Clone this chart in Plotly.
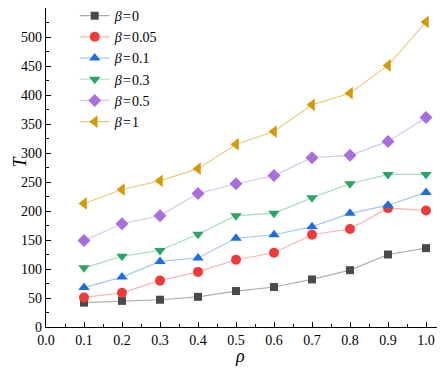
import plotly.graph_objects as go

rho = [0.1, 0.2, 0.3, 0.4, 0.5, 0.6, 0.7, 0.8, 0.9, 1.0]
beta_labels = ["0", "0.05", "0.1", "0.3", "0.5", "1"]
T_b0 = [42, 45, 47, 52, 62, 69, 82, 98, 125, 136]
T_b005 = [51, 59, 80, 95, 116, 128, 159, 169, 205, 201]
T_b01 = [68, 86, 113, 119, 153, 159, 173, 196, 210, 232]
T_b03 = [102, 122, 132, 160, 192, 196, 223, 247, 263, 263]
T_b05 = [149, 178, 192, 230, 247, 261, 292, 296, 320, 361]
T_b1 = [213, 237, 252, 273, 315, 337, 383, 403, 451, 526]
x_ticks = [0, 0.1, 0.2, 0.3, 0.4, 0.5, 0.6, 0.7, 0.8, 0.9, 1.0]
x_ticklabels = ["0.0", "0.1", "0.2", "0.3", "0.4", "0.5", "0.6", "0.7", "0.8", "0.9", "1.0"]

series = [T_b0, T_b005, T_b01, T_b03, T_b05, T_b1]
marker_colors = ["#4a4a4a", "#f03a3a", "#1f6ee0", "#2aa564", "#a86fdc", "#d39a06"]
line_colors = ["rgba(74,74,74,0.45)", "rgba(240,58,58,0.4)", "rgba(31,110,224,0.4)",
               "rgba(42,165,100,0.4)", "rgba(168,111,220,0.4)", "rgba(211,154,6,0.5)"]
symbols = ["square", "circle", "triangle-up", "triangle-down", "diamond", "triangle-left"]
sizes = [8, 10, 10, 10, 10, 11]

fig = go.Figure()
for lab, ys, mc, lc, sym, sz in zip(beta_labels, series, marker_colors, line_colors, symbols, sizes):
    fig.add_trace(go.Scatter(
        x=rho, y=ys, mode="lines+markers",
        name=f"<i>β</i>\u200a=\u200a{lab}",
        line=dict(color=lc, width=1.2),
        marker=dict(symbol=sym, size=sz, color=mc, line=dict(width=0)),
    ))

# the page body adds an 8px offset; the figure is sized to fill the rest of the window
font_family = "Liberation Serif"
fig.update_layout(
    width=437, height=360,
    margin=dict(l=38, r=0, t=0, b=41, pad=0, autoexpand=False),
    paper_bgcolor="white", plot_bgcolor="white",
    font=dict(family=font_family, size=14, color="black"),
    showlegend=True,
    legend=dict(x=0.072, y=1.025, xanchor="left", yanchor="top",
                bgcolor="rgba(0,0,0,0)", font=dict(size=14),
                tracegroupgap=0, itemwidth=30),
    xaxis=dict(range=[0, 1.05], tickmode="array", automargin=False,
               tickvals=x_ticks, ticktext=x_ticklabels,
               ticks="inside", ticklen=5, tickwidth=1, tickcolor="black",
               minor=dict(ticks="inside", ticklen=3, dtick=0.05, tick0=0, tickcolor="black"),
               showline=True, linecolor="black", linewidth=1.2, showgrid=False, zeroline=False),
    yaxis=dict(range=[0, 550], dtick=50, tick0=0, automargin=False,
               ticks="inside", ticklen=5, tickwidth=1, tickcolor="black",
               minor=dict(ticks="inside", ticklen=3, dtick=25, tick0=0, tickcolor="black"),
               showline=True, linecolor="black", linewidth=1.2, showgrid=False, zeroline=False),
    annotations=[
        dict(text="<i>ρ</i>", xref="paper", yref="paper", x=0.486, y=-0.1275,
             xanchor="center", yanchor="bottom", showarrow=False, font=dict(size=18)),
        dict(text="<i>T</i>", xref="paper", yref="paper", x=-0.0945, y=0.52, textangle=-90,
             xanchor="left", yanchor="middle", showarrow=False, font=dict(size=18)),
    ],
)

fig.write_html("out.html")
